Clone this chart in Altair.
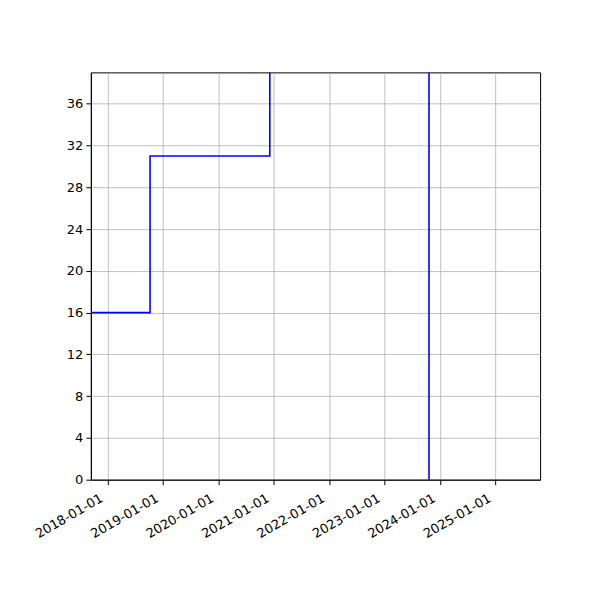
import altair as alt
import pandas as pd

# step data (value holds until the next date)
dates = ["2017-09-14", "2018-10-09", "2020-12-06", "2023-10-21", "2025-10-22"]
values = [16, 31, 100, -5, -5]

tick_years = [2018, 2019, 2020, 2021, 2022, 2023, 2024, 2025]
y_ticks = [0, 4, 8, 12, 16, 20, 24, 28, 32, 36]

df = pd.DataFrame({"date": dates, "value": values})

FONT = "DejaVu Sans"

line = alt.Chart(df).mark_line(
    interpolate="step-after", color="#0000ff", strokeWidth=1.6, clip=True
).encode(
    x=alt.X(
        "date:T",
        scale=alt.Scale(
            type="utc",
            domain=[
                alt.DateTime(year=2017, month=9, date=14, utc=True),
                alt.DateTime(year=2025, month=10, date=22, utc=True),
            ],
            nice=False,
        ),
        axis=alt.Axis(
            values=[alt.DateTime(year=y, month=1, date=1, utc=True) for y in tick_years],
            labelExpr="utcFormat(datum.value, '%Y-%m-%d')",
            labelAngle=-30,
            labelAlign="right",
            labelBaseline="top",
            labelOverlap=False,
            labelBound=False,
            labelOffset=-9,
            labelPadding=7,
            title=None,
        ),
    ),
    y=alt.Y(
        "value:Q",
        scale=alt.Scale(domain=[0, 39], nice=False, zero=False),
        axis=alt.Axis(values=y_ticks, title=None, labelPadding=3),
    ),
)

chart = line.properties(
    width=450,
    height=408,
    autosize=alt.AutoSizeParams(type="none"),
    padding={"left": 83, "top": 64, "right": 52, "bottom": 112},
).configure_view(
    stroke="black", strokeWidth=1
).configure_axis(
    grid=True,
    gridColor="#b0b0b0",
    gridWidth=0.8,
    domainColor="black",
    domainWidth=1,
    tickColor="black",
    tickSize=5,
    tickWidth=1,
    labelColor="black",
    labelFont=FONT,
    labelFontSize=13,
)

chart.save("out.html", embed_options={"renderer": "svg", "actions": False})
